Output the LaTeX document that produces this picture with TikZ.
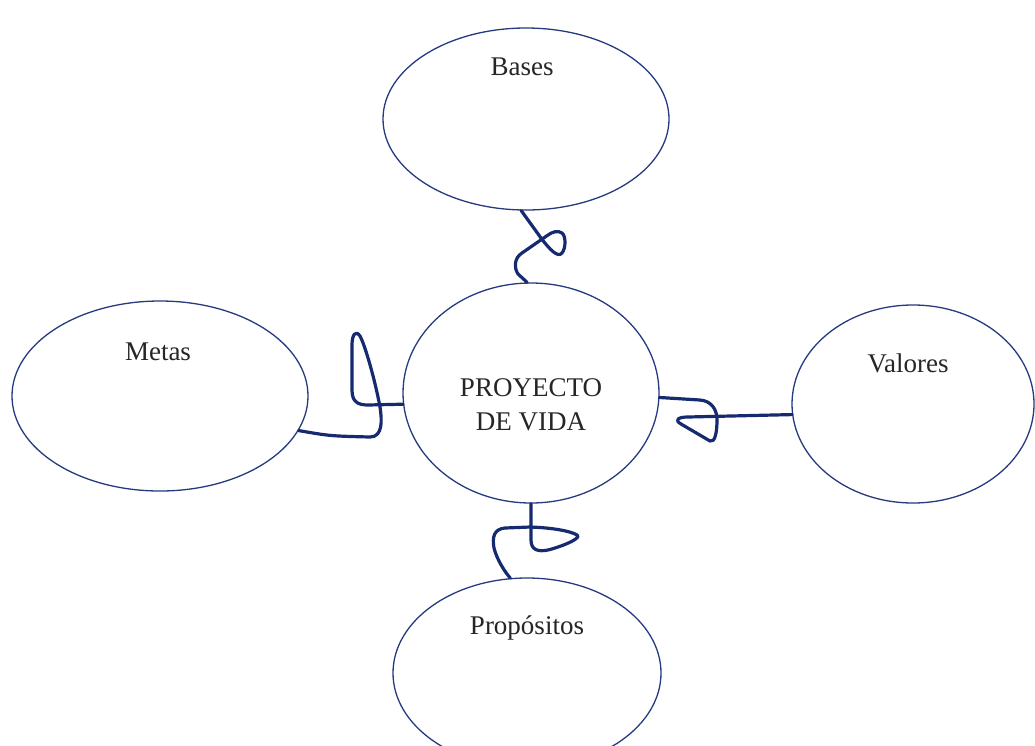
\documentclass[tikz,border=0pt]{standalone}
\usepackage{fontspec}
\setmainfont{Liberation Serif}
\usetikzlibrary{shapes.geometric}
\definecolor{rim}{RGB}{38,58,128}
\definecolor{wire}{RGB}{22,42,112}
\tikzset{bubble/.style={
  ellipse,
  draw=rim,
  line width=1.3pt,
  fill=white,
  inner sep=0pt
}}
\tikzset{conn/.style={
  draw=wire,
  line width=3.2pt,
  line cap=round,
  line join=round
}}
\tikzset{lbl/.style={
  font=\fontsize{27}{32}\selectfont,
  text=black!85,
  inner sep=0pt,
  align=center
}}
\begin{document}
\begin{tikzpicture}[x=1pt,y=-1pt]
    \useasboundingbox (0,0) rectangle (1035,745);
    % Ellipses
    \node[bubble,minimum width=286pt,minimum height=182pt] (bases) at (526,119) {};
    \node[bubble,minimum width=296pt,minimum height=190pt] (metas) at (160,396) {};
    \node[bubble,minimum width=256pt,minimum height=220pt] (proy) at (531,393) {};
    \node[bubble,minimum width=242pt,minimum height=198pt] (valores) at (913,404) {};
    \node[bubble,minimum width=268pt,minimum height=190pt] (prop) at (527,673) {};
    % Labels
    \node[lbl] (basesT) at (522,67) {Bases};
    \node[lbl] (metasT) at (158,352) {Metas};
    \node[lbl] (valoresT) at (908,363) {Valores};
    \node[lbl] (propT) at (527,628) {Propósitos};
    \node[lbl] (proyT) at (531,405) {PROYECTO\\[2pt]DE VIDA};
    % Wires
    \draw[conn] (bases.267.5) -- (541,238)
      .. controls (550,250) and (558,258) .. (562,253)
      .. controls (566,248) and (566,236) .. (562,233)
      .. controls (558,230) and (552,232) .. (548,235)
      -- (522,253) .. controls (514,258) and (514,268) .. (518,274)
      -- (proy.92);
    \draw[conn] (metas.346) .. controls (330,436) .. (370,437)
      .. controls (383,437) and (382,420) .. (380,407)
      .. controls (375,380) and (365,345) .. (360,336)
      .. controls (356,330) and (352,334) .. (352,345)
      -- (352,390) .. controls (352,402) and (358,405) .. (368,405)
      -- (proy.185);
    \draw[conn] (proy.-2) -- (700,400)
      .. controls (712,401) and (717,410) .. (717,420)
      .. controls (717,432) and (715,443) .. (710,441)
      -- (681,424) .. controls (674,420) and (678,417) .. (688,417)
      -- (valores.185);
    \draw[conn] (proy.south) -- (531,540)
      .. controls (531,550) and (538,552) .. (548,550)
      .. controls (560,547) and (578,540) .. (578,536)
      .. controls (576,533) and (560,528) .. (530,527)
      -- (505,528) .. controls (494,529) and (492,537) .. (494,548)
      .. controls (497,560) and (505,572) .. (prop.100);
  \end{tikzpicture}
\end{document}
